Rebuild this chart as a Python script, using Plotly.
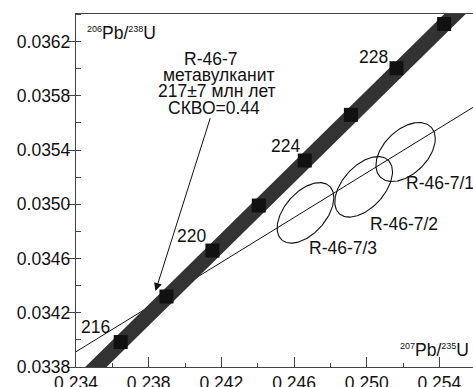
import numpy as np
import plotly.graph_objects as go

# ---------------- data ----------------
# concordia ticks (age, Ma) and their ratio coordinates
ages = [216, 218, 220, 222, 224, 226, 228, 230]
conc_x = [0.23646, 0.23898, 0.24151, 0.24406, 0.24659, 0.24913, 0.25164, 0.25426]
conc_y = [0.033984, 0.034320, 0.034659, 0.034991, 0.035323, 0.035660, 0.036004, 0.036330]
labeled_ages = [216, 220, 224, 228]

# concordia band extends beyond the frame
band_x = [0.23394] + conc_x + [0.25688]
band_y = [0.033648] + conc_y + [0.036670]

# discordia (regression) line end points
disc_x = [0.2330, 0.2570]
disc_y = [0.03383, 0.03581]

# analyses: centre, half extents, error correlation
samples = ["R-46-7/1", "R-46-7/2", "R-46-7/3"]
ell_cx = [0.25214, 0.24983, 0.24663]
ell_cy = [0.035386, 0.035129, 0.034937]
ell_ex = [0.001633, 0.001589, 0.001561]
ell_ey = [0.0002174, 0.0002233, 0.0002233]
ell_rho = [0.45, 0.50, 0.50]

x_ticks = [0.234, 0.238, 0.242, 0.246, 0.250, 0.254]
y_ticks = [0.0338, 0.0342, 0.0346, 0.0350, 0.0354, 0.0358, 0.0362]

# ---------------- layout geometry ----------------
W, H = 473, 387
ML, MR, MT, MB = 76, 0, 14, 20
XR = [0.234, 0.25585]
YR = [0.0338, 0.036404]


def px2x(px):
    return XR[0] + (px - ML) / (W - ML - MR) * (XR[1] - XR[0])


def py2y(py):
    return YR[1] - (py - MT) / (H - MT - MB) * (YR[1] - YR[0])


FONT = "Liberation Sans, Arial, sans-serif"
TXT = "#111111"
FS = 17.5

fig = go.Figure()

# discordia line
fig.add_trace(go.Scatter(x=disc_x, y=disc_y, mode="lines",
                         line=dict(color="#111111", width=1), hoverinfo="skip"))

# error ellipses
t = np.linspace(0, 2 * np.pi, 200)
for cx, cy, ex, ey, r in zip(ell_cx, ell_cy, ell_ex, ell_ey, ell_rho):
    ex_pts = cx + ex * np.cos(t)
    ey_pts = cy + ey * (r * np.cos(t) + np.sqrt(1 - r * r) * np.sin(t))
    fig.add_trace(go.Scatter(x=ex_pts, y=ey_pts, mode="lines",
                             line=dict(color="#111111", width=1.1), hoverinfo="skip"))

# concordia band
fig.add_trace(go.Scatter(x=band_x, y=band_y, mode="lines",
                         line=dict(color="#333333", width=15), hoverinfo="skip"))
# concordia age markers
fig.add_trace(go.Scatter(x=conc_x, y=conc_y, mode="markers",
                         marker=dict(symbol="square", size=14, color="#111111",
                                     line=dict(width=0)), hoverinfo="skip"))

ann = []
# age labels
age_lab_px = {216: (95, 327), 220: (191, 236), 224: (285, 146), 228: (373.5, 57)}
for a in labeled_ages:
    px, py = age_lab_px[a]
    ann.append(dict(x=px2x(px), y=py2y(py), text=str(a), showarrow=False,
                    xanchor="center", yanchor="middle",
                    font=dict(family=FONT, size=FS, color=TXT)))

# sample labels
samp_px = [(404, 183), (368, 223.5), (307, 247.5)]
for s, (px, py) in zip(samples, samp_px):
    ann.append(dict(x=px2x(px), y=py2y(py), text=s, showarrow=False,
                    xanchor="left", yanchor="middle",
                    font=dict(family=FONT, size=FS, color=TXT)))

# info block
info = ["R-46-7", "метавулканит", "217±7 млн лет", "СКВО=0.44"]
info_px = [(211, 58.5), (218.5, 75), (216.7, 91), (214, 107.5)]
for s, (px, py) in zip(info, info_px):
    ann.append(dict(x=px2x(px), y=py2y(py), text=s, showarrow=False,
                    xanchor="center", yanchor="middle",
                    font=dict(family=FONT, size=FS, color=TXT)))

# arrow
ann.append(dict(x=px2x(155.5), y=py2y(291), ax=px2x(210.7), ay=py2y(116.7),
                xref="x", yref="y", axref="x", ayref="y", text="",
                showarrow=True, arrowhead=2, arrowsize=1.6, arrowwidth=1,
                arrowcolor="#111111"))

# axis titles
ann.append(dict(x=px2x(85), y=py2y(33), xanchor="left", yanchor="middle",
                text="<sup><span style='font-size:9px'>206</span></sup>Pb/<sup><span style='font-size:9px'>238</span></sup>U",
                showarrow=False, font=dict(family=FONT, size=FS, color=TXT)))
ann.append(dict(x=px2x(471), y=py2y(350), xanchor="right", yanchor="middle",
                text="<sup><span style='font-size:9px'>207</span></sup>Pb/<sup><span style='font-size:9px'>235</span></sup>U",
                showarrow=False, font=dict(family=FONT, size=FS, color=TXT)))

fig.update_layout(
    width=W, height=H,
    margin=dict(l=ML, r=MR, t=MT, b=MB, pad=0),
    paper_bgcolor="white", plot_bgcolor="white",
    showlegend=False,
    annotations=ann,
    font=dict(family=FONT, size=FS, color=TXT),
    xaxis=dict(range=XR, tickvals=x_ticks, ticktext=[f"{v:.3f}" for v in x_ticks],
               ticks="inside", ticklen=10, tickwidth=1, tickcolor="#444444",
               showline=True, linecolor="#444444", linewidth=1.3, mirror=True,
               showgrid=False, zeroline=False, automargin=False,
               tickfont=dict(family=FONT, size=FS, color=TXT),
               minor=dict(dtick=0.002, tick0=0.234, ticks="inside", ticklen=4,
                          tickcolor="#444444", showgrid=False)),
    yaxis=dict(range=YR, tickvals=y_ticks, ticktext=[f"{v:.4f}" for v in y_ticks],
               ticks="outside", ticklen=8, tickwidth=1, tickcolor="#444444",
               showline=True, linecolor="#444444", linewidth=1.3, mirror=False,
               showgrid=False, zeroline=False, automargin=False,
               ticklabelstandoff=-7,
               tickfont=dict(family=FONT, size=FS, color=TXT),
               minor=dict(dtick=0.0002, tick0=0.0338, ticks="inside", ticklen=5,
                          tickcolor="#444444", showgrid=False)),
)

fig.write_html("out.html")
